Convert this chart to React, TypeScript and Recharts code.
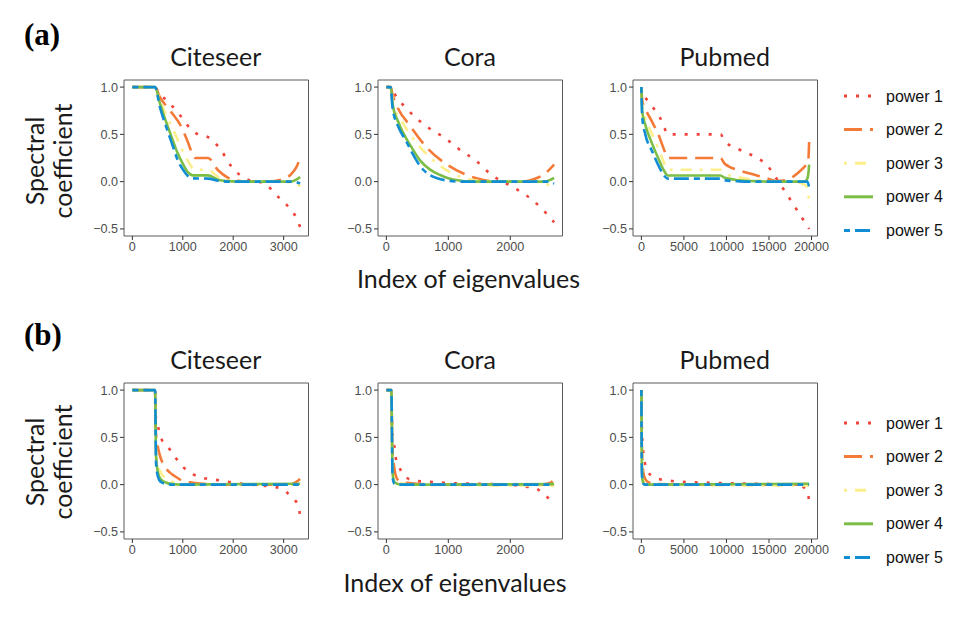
import React from 'react';
import { LineChart, Line, XAxis, YAxis, ReferenceArea } from 'recharts';

type Pt = [number, number];

// ---------- legend / series styling ----------
const seriesNames = ['power 1', 'power 2', 'power 3', 'power 4', 'power 5'];
const seriesColors = ['#F0443B', '#F47A38', '#FDEE8C', '#7CBE45', '#118DD3'];
const seriesDash = ['3 9', '18 8', '3 8 11 8', '', '6 5 15 5'];

// ---------- ticks ----------
const yTicks = [-0.5, 0, 0.5, 1];
const citeseerTicks = [0, 1000, 2000, 3000];
const coraTicks = [0, 1000, 2000];
const pubmedTicks = [0, 5000, 10000, 15000, 20000];
const titles = ['Citeseer', 'Cora', 'Pubmed'];
const citeseerDomain: [number, number] = [-166, 3493];
const coraDomain: [number, number] = [-135, 2843];
const pubmedDomain: [number, number] = [-986, 20703];

// ---------- (a) Citeseer ----------
const citeseerA_p1: Pt[] = [[0, 1], [450, 1], [520, 0.94], [700, 0.85], [950, 0.7], [1150, 0.56], [1300, 0.5], [1500, 0.47], [1750, 0.34], [1950, 0.17], [2250, 0.03], [2450, 0], [2600, -0.01], [2750, -0.08], [2870, -0.15], [3000, -0.21], [3130, -0.29], [3250, -0.38], [3327, -0.48]];
const citeseerA_p2: Pt[] = [[0, 1], [450, 1], [540, 0.9], [750, 0.75], [950, 0.6], [1100, 0.42], [1200, 0.28], [1250, 0.25], [1500, 0.25], [1700, 0.12], [1900, 0.04], [2100, 0.01], [2300, 0], [2700, 0], [2950, 0.02], [3150, 0.08], [3250, 0.15], [3327, 0.25]];
const citeseerA_p3: Pt[] = [[0, 1], [450, 1], [545, 0.86], [690, 0.68], [800, 0.56], [950, 0.38], [1100, 0.22], [1200, 0.14], [1250, 0.125], [1500, 0.125], [1700, 0.05], [1900, 0.015], [2100, 0], [2900, 0], [3150, -0.01], [3327, -0.05]];
const citeseerA_p4: Pt[] = [[0, 1], [450, 1], [545, 0.83], [690, 0.6], [800, 0.44], [890, 0.31], [1000, 0.19], [1100, 0.1], [1200, 0.066], [1500, 0.066], [1700, 0.02], [1900, 0.005], [2100, 0], [3150, 0], [3250, 0.02], [3327, 0.05]];
const citeseerA_p5: Pt[] = [[0, 1], [450, 1], [545, 0.79], [690, 0.55], [800, 0.38], [890, 0.24], [1000, 0.13], [1100, 0.06], [1200, 0.035], [1500, 0.032], [1700, 0.01], [1900, 0], [3200, 0], [3327, -0.02]];

// ---------- (a) Cora ----------
const coraA_p1: Pt[] = [[0, 1], [70, 1], [120, 0.94], [330, 0.77], [680, 0.57], [950, 0.46], [1200, 0.33], [1450, 0.22], [1700, 0.07], [1850, 0.01], [2050, -0.06], [2200, -0.12], [2350, -0.19], [2530, -0.3], [2708, -0.43]];
const coraA_p2: Pt[] = [[0, 1], [70, 1], [100, 0.92], [170, 0.8], [390, 0.585], [660, 0.355], [980, 0.18], [1300, 0.07], [1550, 0.02], [1800, 0], [2200, 0], [2400, 0.03], [2550, 0.08], [2708, 0.18]];
const coraA_p3: Pt[] = [[0, 1], [70, 1], [110, 0.82], [250, 0.64], [450, 0.44], [700, 0.26], [1000, 0.11], [1300, 0.03], [1600, 0.005], [2400, 0], [2600, -0.03], [2708, -0.08]];
const coraA_p4: Pt[] = [[0, 1], [70, 1], [100, 0.82], [200, 0.62], [400, 0.37], [550, 0.22], [700, 0.13], [870, 0.07], [1000, 0.035], [1200, 0.01], [1400, 0], [2550, 0], [2650, 0.02], [2708, 0.04]];
const coraA_p5: Pt[] = [[0, 1], [70, 1], [100, 0.78], [200, 0.57], [310, 0.44], [420, 0.3], [550, 0.16], [700, 0.07], [850, 0.03], [1000, 0.01], [1200, 0], [2600, 0], [2708, -0.02]];

// ---------- (a) Pubmed ----------
const pubmedA_p1: Pt[] = [[0, 1], [100, 0.93], [270, 0.91], [1220, 0.8], [2170, 0.68], [2700, 0.57], [3100, 0.5], [9300, 0.5], [9800, 0.43], [11500, 0.34], [13200, 0.27], [14900, 0.16], [15900, 0.03], [17000, -0.12], [18500, -0.33], [19717, -0.5]];
const pubmedA_p2: Pt[] = [[0, 1], [100, 0.86], [460, 0.77], [1220, 0.64], [2170, 0.46], [2700, 0.33], [3100, 0.25], [9300, 0.25], [9800, 0.19], [11500, 0.12], [13200, 0.075], [14900, 0.03], [15900, 0.005], [17000, 0.015], [18500, 0.1], [19300, 0.17], [19600, 0.2], [19717, 0.42]];
const pubmedA_p3: Pt[] = [[0, 1], [100, 0.8], [460, 0.67], [1220, 0.51], [2170, 0.31], [2700, 0.19], [3100, 0.125], [9300, 0.125], [9800, 0.085], [11500, 0.045], [13200, 0.02], [14900, 0.005], [16000, 0], [18500, -0.01], [19300, -0.04], [19600, -0.08], [19717, -0.27]];
const pubmedA_p4: Pt[] = [[0, 1], [100, 0.74], [460, 0.6], [1220, 0.41], [2170, 0.21], [2700, 0.11], [3100, 0.065], [9300, 0.065], [9800, 0.04], [11500, 0.015], [13200, 0.005], [15000, 0], [19200, 0], [19500, 0.03], [19650, 0.1], [19717, 0.18]];
const pubmedA_p5: Pt[] = [[0, 1], [100, 0.68], [460, 0.5], [1220, 0.33], [2170, 0.14], [2700, 0.06], [3100, 0.032], [9300, 0.032], [9800, 0.015], [11500, 0.003], [13000, 0], [19500, 0], [19717, -0.06]];

// ---------- (b) Citeseer ----------
const citeseerB_p1: Pt[] = [[0, 1], [450, 1], [460, 0.75], [480, 0.68], [525, 0.58], [580, 0.48], [700, 0.4], [790, 0.34], [890, 0.26], [1000, 0.19], [1170, 0.12], [1330, 0.08], [1530, 0.06], [1730, 0.045], [2000, 0.02], [2350, 0], [2750, -0.02], [2950, -0.04], [3080, -0.09], [3220, -0.16], [3300, -0.24], [3327, -0.34]];
const citeseerB_p2: Pt[] = [[0, 1], [450, 1], [460, 0.6], [500, 0.42], [540, 0.32], [640, 0.19], [740, 0.13], [840, 0.09], [1000, 0.04], [1200, 0.02], [1500, 0.005], [2000, 0], [3100, 0], [3250, 0.03], [3327, 0.06]];
const citeseerB_p3: Pt[] = [[0, 1], [450, 1], [465, 0.4], [500, 0.22], [560, 0.13], [650, 0.07], [750, 0.04], [900, 0.015], [1100, 0], [3200, 0], [3327, -0.02]];
const citeseerB_p4: Pt[] = [[0, 1], [450, 1], [470, 0.3], [510, 0.12], [560, 0.06], [650, 0.025], [800, 0.005], [950, 0], [3327, 0.01]];
const citeseerB_p5: Pt[] = [[0, 1], [450, 1], [470, 0.22], [510, 0.08], [560, 0.03], [650, 0.01], [800, 0], [3327, 0]];

// ---------- (b) Cora ----------
const coraB_p1: Pt[] = [[0, 1], [80, 1], [90, 0.7], [107, 0.49], [133, 0.39], [150, 0.29], [200, 0.2], [280, 0.1], [430, 0.045], [590, 0.033], [750, 0.028], [930, 0.02], [1100, 0.015], [1400, 0.01], [1800, 0.005], [2000, 0], [2200, -0.02], [2380, -0.03], [2530, -0.095], [2708, -0.2]];
const coraB_p2: Pt[] = [[0, 1], [80, 1], [95, 0.4], [120, 0.22], [150, 0.1], [200, 0.04], [300, 0.02], [500, 0.01], [800, 0], [2500, 0], [2650, 0.02], [2708, 0.05]];
const coraB_p3: Pt[] = [[0, 1], [80, 1], [100, 0.2], [130, 0.06], [200, 0.02], [400, 0], [2708, -0.01]];
const coraB_p4: Pt[] = [[0, 1], [80, 1], [100, 0.12], [130, 0.03], [200, 0.005], [300, 0], [2708, 0.005]];
const coraB_p5: Pt[] = [[0, 1], [80, 1], [100, 0.08], [130, 0.01], [200, 0], [2708, 0]];

// ---------- (b) Pubmed ----------
const pubmedB_p1: Pt[] = [[0, 1], [50, 0.62], [120, 0.46], [220, 0.34], [400, 0.235], [750, 0.14], [1450, 0.08], [2350, 0.053], [3400, 0.04], [4700, 0.03], [6000, 0.025], [8000, 0.02], [10000, 0.015], [13000, 0.01], [16000, 0.005], [17700, 0], [18700, -0.015], [19500, -0.06], [19717, -0.18]];
const pubmedB_p2: Pt[] = [[0, 1], [60, 0.4], [150, 0.2], [300, 0.1], [600, 0.04], [1000, 0.02], [2000, 0.005], [4000, 0], [19000, 0], [19717, 0.04]];
const pubmedB_p3: Pt[] = [[0, 1], [60, 0.25], [150, 0.08], [300, 0.03], [600, 0.01], [1200, 0], [19717, -0.01]];
const pubmedB_p4: Pt[] = [[0, 1], [60, 0.18], [150, 0.04], [300, 0.01], [600, 0], [19717, 0.01]];
const pubmedB_p5: Pt[] = [[0, 1], [60, 0.12], [150, 0.02], [300, 0.005], [600, 0], [19717, 0]];

const Y_DOMAIN: [number, number] = [-0.575, 1.075];
const PW = 184.5;
const PH = 156;
const YW = 50;
const MT = 10;
const XH = 30;

const fmtY = (v: number) => (v < 0 ? '\u2212' : '') + Math.abs(v).toFixed(1);

function Panel(props: { lines: Pt[][]; domain: [number, number]; ticks: number[]; left: number; top: number; rightPad: number }) {
  const { lines, domain, ticks, left, top, rightPad } = props;
  const width = YW + PW + rightPad;
  const height = MT + PH + XH;
  const tickStyle = { fill: '#4d4d4d', fontSize: 12.6, fontFamily: 'Liberation Sans, Arial, sans-serif' };
  return (
    <div style={{ position: 'absolute', left: left - YW, top: top - MT }}>
      <LineChart width={width} height={height} margin={{ top: MT, right: rightPad, bottom: 0, left: 0 }} style={{ overflow: 'visible' }}>
        <XAxis
          type="number"
          dataKey="x"
          domain={domain}
          ticks={ticks}
          allowDataOverflow
          interval={0}
          axisLine={false}
          tickSize={4}
          tickMargin={2}
          tickLine={{ stroke: '#333', strokeWidth: 1 }}
          tick={tickStyle}
          height={XH}
        />
        <YAxis
          type="number"
          domain={Y_DOMAIN}
          ticks={yTicks}
          allowDataOverflow
          interval={0}
          axisLine={false}
          tickSize={4}
          tickMargin={2}
          tickLine={{ stroke: '#333', strokeWidth: 1 }}
          tick={tickStyle}
          tickFormatter={fmtY}
          width={YW}
        />
        <ReferenceArea
          x1={domain[0]}
          x2={domain[1]}
          y1={Y_DOMAIN[0]}
          y2={Y_DOMAIN[1]}
          fill="none"
          fillOpacity={0}
          stroke="#5a5a5a"
          strokeWidth={1}
          ifOverflow="visible"
        />
        {lines.map((pts, i) => (
          <Line
            key={i}
            data={pts.map(([x, y]) => ({ x, y }))}
            dataKey="y"
            type="monotone"
            stroke={seriesColors[i]}
            strokeWidth={2.6}
            strokeDasharray={seriesDash[i] || undefined}
            dot={false}
            activeDot={false}
            isAnimationActive={false}
          />
        ))}
      </LineChart>
    </div>
  );
}

const textFont = 'Lato, "Open Sans", sans-serif';

function Legend({ top }: { top: number }) {
  return (
    <g>
      {seriesNames.map((name, i) => {
        const y = top + i * 33.6;
        return (
          <g key={name}>
            <line x1={844} x2={873} y1={y} y2={y} stroke={seriesColors[i]} strokeWidth={3} strokeDasharray={seriesDash[i] || undefined} />
            <text x={886} y={y + 5.5} fontSize={16} fontFamily="Liberation Sans, Arial, sans-serif" fill="#111">{name}</text>
          </g>
        );
      })}
    </g>
  );
}

function Decorations() {
  const rows = [
    { label: '(a)', labelY: 45, titleY: 66, yCenter: 161, xLabelX: 468.5, xLabelY: 288, legendTop: 96 },
    { label: '(b)', labelY: 345, titleY: 369, yCenter: 462, xLabelX: 455, xLabelY: 592, legendTop: 423 },
  ];
  const centers = [123.5 + PW / 2, 377.7 + PW / 2, 632.5 + PW / 2];
  return (
    <svg width={969} height={621} style={{ position: 'absolute', left: 0, top: 0 }}>
      {rows.map((r) => (
        <g key={r.label}>
          <text x={24} y={r.labelY} fontSize={31} fontWeight="bold" fontFamily='"Liberation Serif", serif' fill="#000">{r.label}</text>
          {titles.map((t, i) => (
            <text key={t} x={centers[i]} y={r.titleY} textAnchor="middle" fontSize={25} fontFamily={textFont} fill="#1a1a1a">{t}</text>
          ))}
          <text transform={`rotate(-90, 44, ${r.yCenter})`} x={44} y={r.yCenter} textAnchor="middle" fontSize={25} fontFamily={textFont} fill="#1a1a1a">Spectral</text>
          <text transform={`rotate(-90, 72, ${r.yCenter})`} x={72} y={r.yCenter} textAnchor="middle" fontSize={25} fontFamily={textFont} fill="#1a1a1a">coefficient</text>
          <text x={r.xLabelX} y={r.xLabelY} textAnchor="middle" fontSize={25} fontFamily={textFont} fill="#1a1a1a">Index of eigenvalues</text>
          <Legend top={r.legendTop} />
        </g>
      ))}
    </svg>
  );
}

export default function App() {
  return (
    <div style={{ position: 'absolute', left: 0, top: 0, width: 969, height: 621, background: '#fff', overflow: 'hidden' }}>
      <Decorations />
      <Panel lines={[citeseerA_p1, citeseerA_p2, citeseerA_p3, citeseerA_p4, citeseerA_p5]} domain={citeseerDomain} ticks={citeseerTicks} left={123.5} top={80} rightPad={10} />
      <Panel lines={[coraA_p1, coraA_p2, coraA_p3, coraA_p4, coraA_p5]} domain={coraDomain} ticks={coraTicks} left={377.7} top={80} rightPad={10} />
      <Panel lines={[pubmedA_p1, pubmedA_p2, pubmedA_p3, pubmedA_p4, pubmedA_p5]} domain={pubmedDomain} ticks={pubmedTicks} left={632.5} top={80} rightPad={14} />
      <Panel lines={[citeseerB_p1, citeseerB_p2, citeseerB_p3, citeseerB_p4, citeseerB_p5]} domain={citeseerDomain} ticks={citeseerTicks} left={123.5} top={383} rightPad={10} />
      <Panel lines={[coraB_p1, coraB_p2, coraB_p3, coraB_p4, coraB_p5]} domain={coraDomain} ticks={coraTicks} left={377.7} top={383} rightPad={10} />
      <Panel lines={[pubmedB_p1, pubmedB_p2, pubmedB_p3, pubmedB_p4, pubmedB_p5]} domain={pubmedDomain} ticks={pubmedTicks} left={632.5} top={383} rightPad={14} />
    </div>
  );
}
